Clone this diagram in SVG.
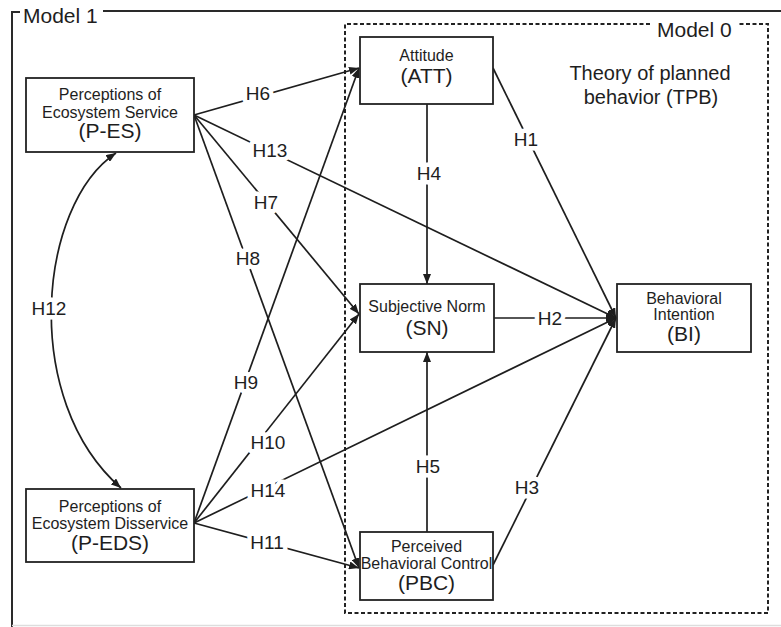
<svg xmlns="http://www.w3.org/2000/svg" width="781" height="627" viewBox="0 0 781 627">
  <style>
    .box { fill: #ffffff; stroke: #222222; stroke-width: 1.8; }
    .frame { fill: none; stroke: #2a2a2a; stroke-width: 2; }
    .dash { fill: none; stroke: #222222; stroke-width: 2; stroke-dasharray: 4 2.5; }
    .edge { fill: none; stroke: #1e1e1e; stroke-width: 1.7; }
    .t { font-family: "Liberation Sans", Arial, sans-serif; fill: #1e1e1e; text-anchor: middle; }
    .small { font-size: 16px; }
    .big { font-size: 21px; }
    .title { font-family: "Liberation Sans", Arial, sans-serif; fill: #1e1e1e; font-size: 21px; }
    .lbl { font-family: "Liberation Sans", Arial, sans-serif; font-size: 19px; fill: #1e1e1e; text-anchor: middle; dominant-baseline: central; stroke: #ffffff; stroke-width: 9; stroke-linejoin: round; paint-order: stroke; }
  </style>
  <defs>
    <marker id="arrow" viewBox="0 0 10 8" refX="10" refY="4" markerWidth="10" markerHeight="8" orient="auto-start-reverse" markerUnits="userSpaceOnUse">
      <path d="M0,0 L10,4 L0,8 z" fill="#1e1e1e"/>
    </marker>
  </defs>

  <rect x="0" y="0" width="781" height="627" fill="#ffffff"/>

  <!-- Outer frame: Model 1 -->
  <g id="model1">
    <path class="frame" d="M20,12 L12,12 L12,627"/>
    <path class="frame" d="M103,11 L781,11"/>
    <line x1="12" y1="625.5" x2="781" y2="625.5" stroke="#dddddd" stroke-width="1.5"/>
    <text class="title" x="23" y="23">Model 1</text>
  </g>

  <!-- Dashed frame: Model 0 (TPB) -->
  <g id="model0">
    <path class="dash" d="M650,24 L345,24 L345,613 L768,613 L768,24 L738,24"/>
    <text class="title" x="657" y="37">Model 0</text>
    <text class="t" x="650" y="80" style="font-size:20px">Theory of planned</text>
    <text class="t" x="651" y="104" style="font-size:20px">behavior (TPB)</text>
  </g>

  <!-- Connectors -->
  <g id="connectors">
    <!-- from P-ES -->
    <line class="edge" x1="194" y1="115" x2="359" y2="68" marker-end="url(#arrow)"/>
    <line class="edge" x1="194" y1="115" x2="616" y2="318" marker-end="url(#arrow)"/>
    <line class="edge" x1="194" y1="115" x2="359" y2="314" marker-end="url(#arrow)"/>
    <line class="edge" x1="194" y1="115" x2="359" y2="568" marker-end="url(#arrow)"/>
    <!-- from P-EDS -->
    <line class="edge" x1="194" y1="523" x2="359" y2="68" marker-end="url(#arrow)"/>
    <line class="edge" x1="194" y1="523" x2="359" y2="314" marker-end="url(#arrow)"/>
    <line class="edge" x1="194" y1="523" x2="616" y2="318" marker-end="url(#arrow)"/>
    <line class="edge" x1="194" y1="523" x2="359" y2="568" marker-end="url(#arrow)"/>
    <!-- TPB paths -->
    <line class="edge" x1="493" y1="68" x2="616" y2="318" marker-end="url(#arrow)"/>
    <line class="edge" x1="427" y1="104" x2="427" y2="284" marker-end="url(#arrow)"/>
    <line class="edge" x1="494" y1="318" x2="616" y2="318" marker-end="url(#arrow)"/>
    <line class="edge" x1="427" y1="532" x2="427" y2="352" marker-end="url(#arrow)"/>
    <line class="edge" x1="493" y1="565" x2="616" y2="318" marker-end="url(#arrow)"/>
    <!-- H12 correlation between perceptions -->
    <path class="edge" d="M116,153 C38,205 20,400 121,488" marker-start="url(#arrow)" marker-end="url(#arrow)"/>

    <!-- path labels -->
    <text class="lbl" x="258" y="93">H6</text>
    <text class="lbl" x="270" y="150">H13</text>
    <text class="lbl" x="266" y="202">H7</text>
    <text class="lbl" x="248" y="258">H8</text>
    <text class="lbl" x="49" y="308">H12</text>
    <text class="lbl" x="246" y="382">H9</text>
    <text class="lbl" x="268" y="442">H10</text>
    <text class="lbl" x="268" y="490">H14</text>
    <text class="lbl" x="267" y="542">H11</text>
    <text class="lbl" x="526" y="139">H1</text>
    <text class="lbl" x="429" y="173">H4</text>
    <text class="lbl" x="550" y="318">H2</text>
    <text class="lbl" x="428" y="466">H5</text>
    <text class="lbl" x="527" y="487">H3</text>
  </g>

  <!-- Nodes -->
  <g id="p-es">
    <rect class="box" x="26" y="78" width="168" height="74"/>
    <text class="t small" x="110" y="100">Perceptions of</text>
    <text class="t small" x="110" y="118">Ecosystem Service</text>
    <text class="t big" x="110" y="138">(P-ES)</text>
  </g>

  <g id="p-eds">
    <rect class="box" x="26" y="489" width="168" height="73"/>
    <text class="t small" x="110" y="512">Perceptions of</text>
    <text class="t small" x="110" y="529">Ecosystem Disservice</text>
    <text class="t big" x="110" y="550">(P-EDS)</text>
  </g>

  <g id="att">
    <rect class="box" x="360" y="37" width="133" height="67"/>
    <text class="t small" x="426.5" y="61">Attitude</text>
    <text class="t big" x="426.5" y="83">(ATT)</text>
  </g>

  <g id="sn">
    <rect class="box" x="360" y="284" width="134" height="68"/>
    <text class="t small" x="427" y="312">Subjective Norm</text>
    <text class="t big" x="427" y="335">(SN)</text>
  </g>

  <g id="pbc">
    <rect class="box" x="360" y="532" width="133" height="68"/>
    <text class="t small" x="426.5" y="552">Perceived</text>
    <text class="t small" x="426.5" y="569">Behavioral Control</text>
    <text class="t big" x="426.5" y="590">(PBC)</text>
  </g>

  <g id="bi">
    <rect class="box" x="617" y="284" width="134" height="68"/>
    <text class="t small" x="684" y="304">Behavioral</text>
    <text class="t small" x="684" y="320">Intention</text>
    <text class="t big" x="684" y="341">(BI)</text>
  </g>
</svg>
